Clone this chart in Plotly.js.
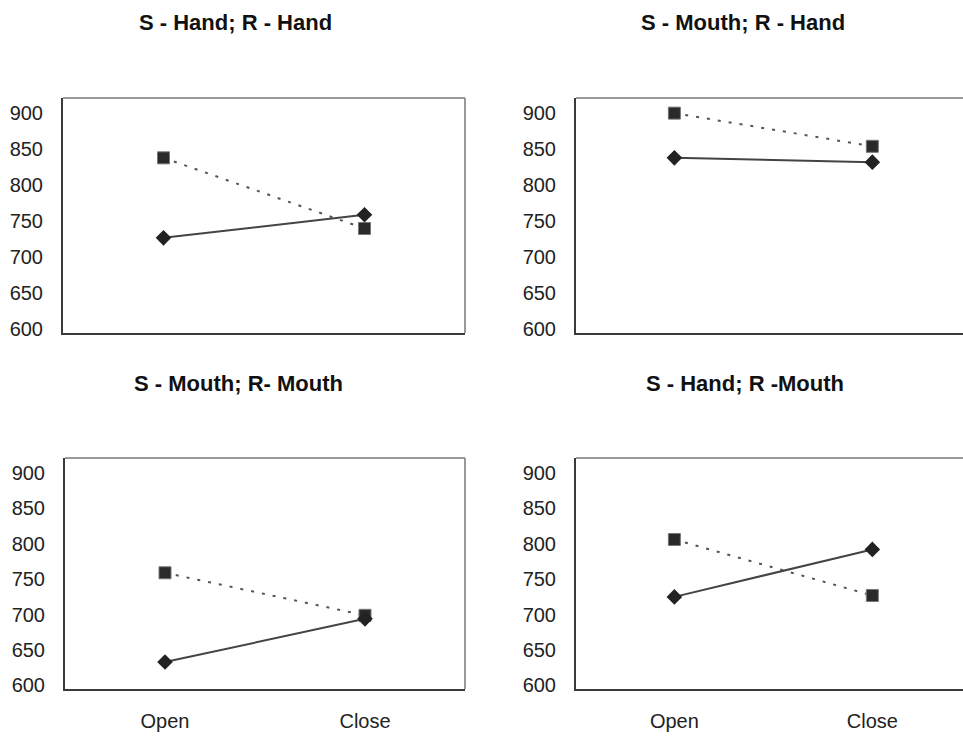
<!DOCTYPE html>
<html>
<head>
<meta charset="utf-8">
<script src="https://cdn.plot.ly/plotly-3.0.1.min.js"></script>
<style>
html,body{margin:0;padding:0;background:#fff;overflow:hidden;}
#chart{width:963px;height:740px;}
</style>
</head>
<body>
<div id="chart"></div>
<script>
// Data
var categories = ["Open", "Close"];
var panelTitles = ["S - Hand; R - Hand", "S - Mouth; R - Hand", "S - Mouth; R- Mouth", "S - Hand; R -Mouth"];
var diamondSeries = {
  handHand:   [727, 759],
  mouthHand:  [838, 832],
  mouthMouth: [633, 694],
  handMouth:  [725, 792]
};
var squareSeries = {
  handHand:   [838, 740],
  mouthHand:  [900, 854],
  mouthMouth: [759, 699],
  handMouth:  [806, 727]
};
var yTicks = [600, 650, 700, 750, 800, 850, 900];

var panelKeys = ["handHand", "mouthHand", "mouthMouth", "handMouth"];
var W = 963, H = 740;
var boxes = [
  {l: 63,  r: 465, t: 98,  b: 333, xr: [-0.5, 1.5]},
  {l: 576, r: 963, t: 98,  b: 333, xr: [-0.497, 1.458]},
  {l: 65,  r: 465, t: 458, b: 689, xr: [-0.5, 1.5]},
  {l: 576, r: 963, t: 458, b: 689, xr: [-0.497, 1.458]}
];
var titlePos = [[235, 22], [743, 22], [238, 383], [745, 383]];

var FONT = "Liberation Sans, Arial, Helvetica, sans-serif";
var traces = [];
var layout = {
  width: W, height: H,
  margin: {l: 0, r: 0, t: 0, b: 0},
  paper_bgcolor: "#fff", plot_bgcolor: "#fff",
  showlegend: false,
  font: {family: FONT, color: "#222", size: 20},
  annotations: [], shapes: []
};

panelKeys.forEach(function (k, i) {
  var n = i + 1;
  var xa = "x" + (n === 1 ? "" : n), ya = "y" + (n === 1 ? "" : n);
  var b = boxes[i];
  traces.push({
    x: categories, y: squareSeries[k], xaxis: xa, yaxis: ya,
    type: "scatter", mode: "lines+markers", name: "Squares",
    line: {color: "#555", width: 2, dash: "3px,8px"},
    marker: {symbol: "square", size: 12, color: "#2a2a2a", line: {color: "#777", width: 1}}
  });
  traces.push({
    x: categories, y: diamondSeries[k], xaxis: xa, yaxis: ya,
    type: "scatter", mode: "lines+markers", name: "Diamonds",
    line: {color: "#444", width: 2},
    marker: {symbol: "diamond", size: 12, color: "#222"}
  });
  var xname = "xaxis" + (n === 1 ? "" : n), yname = "yaxis" + (n === 1 ? "" : n);
  layout[xname] = {
    domain: [b.l / W, b.r / W], anchor: ya,
    type: "category", range: b.xr, fixedrange: true,
    showgrid: false, zeroline: false,
    showline: true, linecolor: "#3a3a3a", linewidth: 2,
    ticks: "", showticklabels: i >= 2, ticklabelstandoff: 13,
    tickfont: {family: FONT, size: 20, color: "#222"}
  };
  layout[yname] = {
    domain: [1 - b.b / H, 1 - b.t / H], anchor: xa,
    range: [595, 921], fixedrange: true,
    tickvals: yTicks, ticktext: yTicks.map(String),
    showgrid: false, zeroline: false,
    showline: true, linecolor: "#3a3a3a", linewidth: 2,
    ticks: "", ticklabelstandoff: 14,
    tickfont: {family: FONT, size: 20, color: "#222"}
  };
  // top border (lighter)
  layout.shapes.push({type: "line", xref: xa + " domain", yref: ya + " domain",
    x0: 0, x1: 1, y0: 1, y1: 1, line: {color: "#999", width: 2}});
  if (i % 2 === 0) {
    layout.shapes.push({type: "line", xref: xa + " domain", yref: ya + " domain",
      x0: 1, x1: 1, y0: 0, y1: 1, line: {color: "#999", width: 2}});
  }
  layout.annotations.push({
    text: "<b>" + panelTitles[i] + "</b>", xref: "paper", yref: "paper",
    x: titlePos[i][0] / W, y: 1 - titlePos[i][1] / H,
    xanchor: "center", yanchor: "middle", showarrow: false,
    font: {family: FONT, size: 22, color: "#111"}
  });
});

Plotly.newPlot("chart", traces, layout, {displayModeBar: false, staticPlot: true});
</script>
</body>
</html>
